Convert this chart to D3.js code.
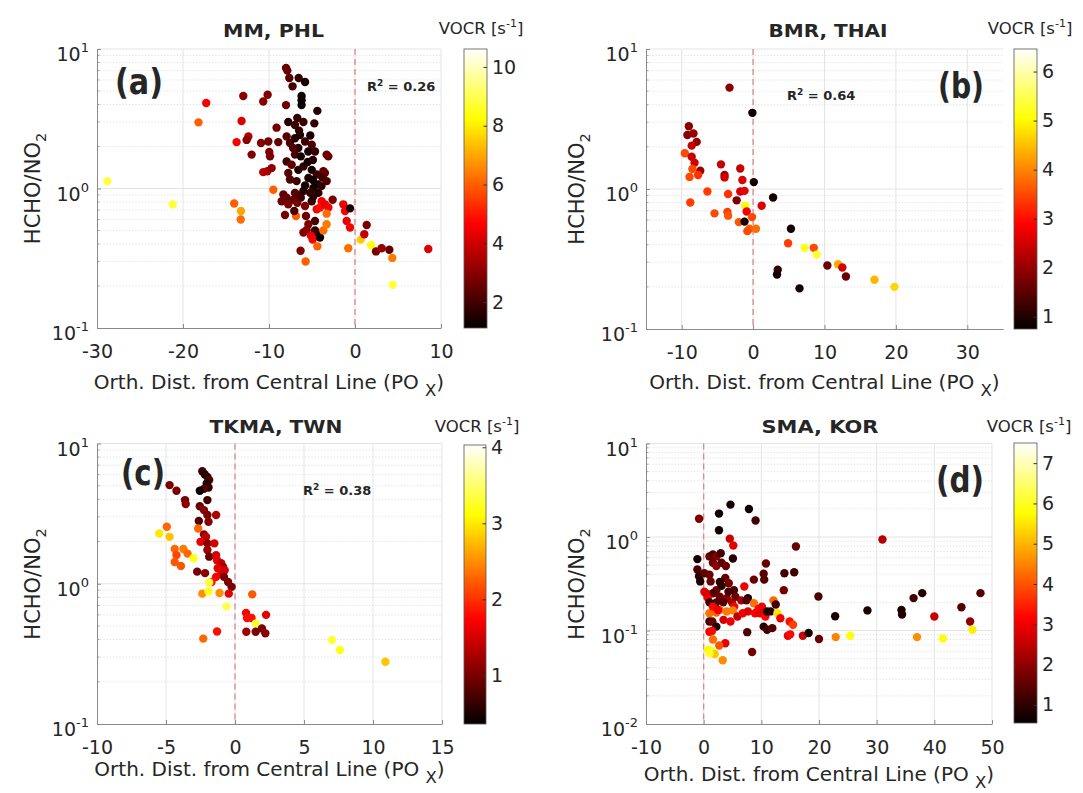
<!DOCTYPE html>
<html><head><meta charset="utf-8">
<script src="https://cdn.jsdelivr.net/npm/d3@7"></script>
<style>
body{margin:0;background:#fff}
svg{display:block}
text{font-family:"DejaVu Sans",sans-serif;fill:#262626}
</style>
</head><body>
<svg id="fig" width="1083" height="793"></svg>
<script>
// ---------------- DATA ----------------
const titles = ["MM, PHL", "BMR, THAI", "TKMA, TWN", "SMA, KOR"];
const panelLabels = ["(a)", "(b)", "(c)", "(d)"];
const r2Values = ["0.26", "0.64", "0.38", null];
const xLabel = "Orth. Dist. from Central Line (PO ";
const cbLabel = "VOCR [s";

const xTicksA = [-30, -20, -10, 0, 10];
const xTicksB = [-10, 0, 10, 20, 30];
const xTicksC = [-10, -5, 0, 5, 10, 15];
const xTicksD = [-10, 0, 10, 20, 30, 40, 50];
const yDecadesABC = [0.1, 1, 10];
const yDecadesD = [0.01, 0.1, 1, 10];
const cbTicksA = [2, 4, 6, 8, 10];
const cbTicksB = [1, 2, 3, 4, 5, 6];
const cbTicksC = [1, 2, 3, 4];
const cbTicksD = [1, 2, 3, 4, 5, 6, 7];
const vocrRangeA = [1.12, 10.61];
const vocrRangeB = [0.75, 6.46];
const vocrRangeC = [0.36, 4.03];
const vocrRangeD = [0.55, 7.5];

// [orth. distance, HCHO/NO2, VOCR]
const pointsA = [
[-28.8,1.13,8.8],[-21.2,0.77,8.8],[-18.2,2.98,6.0],[-17.3,4.1,4.6],[-14.05,0.78,6.0],
[-13.26,0.69,7.0],[-13.29,0.60,6.2],[-13.77,2.15,4.6],[-13.19,3.05,4.2],[-12.99,4.6,3.0],
[-12.4,2.36,3.6],[-12.6,2.23,3.0],[-12.02,1.75,2.9],[-10.93,2.12,2.9],[-10.08,2.17,2.7],
[-10.67,4.2,3.0],[-10.16,4.7,2.9],[-9.97,1.83,2.9],[-9.88,1.70,2.8],[-10.67,1.31,3.7],
[-10.2,1.33,3.5],[-9.69,1.40,3.1],[-9.5,0.98,6.0],[-9.12,2.73,2.7],[-8.92,2.15,2.5],
[-8.02,7.3,2.6],[-7.87,7.0,2.5],[-7.64,6.2,2.3],[-6.55,6.2,1.8],[-5.81,5.8,1.4],
[-7.26,5.4,2.0],[-6.21,4.6,1.3],[-6.21,4.3,1.3],[-6.21,3.96,1.2],[-8.02,3.96,2.6],
[-4.38,3.6,1.6],[-6.71,3.2,1.8],[-7.76,3.0,1.6],[-6.98,2.85,2.0],[-6.0,3.0,1.9],
[-4.73,2.93,1.8],[-7.95,2.36,2.3],[-7.56,2.12,2.1],[-6.98,2.29,1.6],[-6.4,2.42,1.5],
[-5.81,2.17,1.9],[-5.03,2.06,2.2],[-6.59,1.95,1.6],[-5.43,1.84,1.4],[-6.98,1.75,2.2],
[-4.65,1.84,1.8],[-3.3,1.75,2.5],[-3.1,1.7,2.6],[-7.95,1.56,2.0],[-7.37,1.48,2.4],
[-6.59,1.36,1.5],[-7.76,1.29,2.3],[-6.0,1.44,1.8],[-5.03,1.36,1.4],[-5.42,1.19,1.5],
[-4.45,1.26,1.9],[-3.68,1.33,2.4],[-3.5,1.29,2.5],[-3.29,1.13,2.2],[-6.79,1.13,1.9],
[-7.56,1.16,2.2],[-4.84,1.01,1.4],[-4.26,0.93,1.6],[-6.0,0.96,1.5],[-6.79,0.906,2.0],
[-7.95,0.86,2.5],[-4.3,1.07,1.3],[-3.9,1.04,1.8],[-5.5,1.55,1.3],[-4.9,1.6,1.6],
[-6.3,1.7,1.4],[-7.2,1.95,2.2],[-5.2,2.4,1.5],[-6.5,2.6,1.7],[-4.9,1.15,1.3],
[-5.8,1.05,1.4],[-6.3,0.86,1.9],[-3.8,1.2,2.0],[-3.88,0.81,4.6],[-8.53,0.81,2.6],
[-7.17,0.83,2.5],[-8.33,0.906,2.5],[-6.98,0.93,2.3],[-7.76,0.77,2.8],[-6.71,0.79,2.7],
[-8.14,0.645,2.7],[-6.86,0.635,6.0],[-7.06,0.69,2.1],[-5.7,0.635,2.6],[-5.81,0.75,2.9],
[-5.03,0.81,1.8],[-4.84,0.88,1.6],[-5.2,0.93,1.8],[-4.45,0.71,4.6],[-4.07,0.73,4.8],
[-3.49,0.77,4.4],[-3.1,0.73,4.6],[-3.3,0.66,6.2],[-2.6,0.83,2.8],[-4.65,0.585,2.1],
[-5.42,0.554,2.8],[-6.0,0.484,2.9],[-5.62,0.505,3.0],[-4.65,0.50,1.7],[-4.45,0.484,1.8],
[-5.12,0.458,4.4],[-4.92,0.43,4.6],[-4.07,0.445,1.3],[-3.68,0.50,6.2],[-3.3,0.554,6.4],
[-4.38,0.385,6.0],[-6.33,0.358,2.9],[-5.74,0.30,6.0],[-1.36,0.77,4.4],[-1.16,0.69,4.6],
[-0.97,0.585,4.4],[-0.58,0.525,4.6],[-0.58,0.72,1.4],[-0.78,0.373,6.2],[0.66,0.43,7.5],
[1.08,0.47,3.8],[1.36,0.548,2.8],[1.86,0.393,8.3],[2.44,0.354,2.8],[3.1,0.373,3.2],
[3.99,0.364,2.5],[4.34,0.318,6.4],[4.38,0.204,8.8],[8.52,0.368,4.2]
];

const pointsB = [
[-3.3,5.3,1.9],[-0.1,3.5,0.9],[-9.0,2.81,1.9],[-9.2,2.43,1.9],[-8.35,2.49,2.0],
[-7.9,2.17,2.0],[-8.6,2.04,2.4],[-9.56,1.80,3.5],[-8.6,1.70,2.4],[-8.2,1.54,2.5],
[-7.4,1.35,2.0],[-8.5,1.39,3.5],[-8.9,1.22,3.5],[-7.7,1.26,3.3],[-4.5,1.50,2.4],
[-4.0,1.26,2.1],[-4.0,1.21,2.5],[-1.8,1.40,2.4],[-1.5,1.16,2.6],[0.1,1.12,0.9],
[-6.4,0.96,3.4],[-3.5,0.92,3.3],[-1.8,0.96,2.6],[-1.2,0.97,2.7],[-2.3,0.83,1.8],
[-8.8,0.80,3.4],[-1.1,0.76,5.0],[2.8,0.87,0.9],[1.2,0.76,2.6],[-0.9,0.69,2.8],
[-0.15,0.63,3.5],[-5.4,0.67,3.5],[-3.6,0.685,3.4],[-3.5,0.645,3.6],[-2.0,0.58,3.6],
[-1.2,0.585,0.9],[-0.5,0.52,3.7],[-0.8,0.50,3.5],[0.4,0.52,3.8],[5.3,0.52,0.9],
[4.9,0.41,3.4],[7.2,0.38,5.2],[8.5,0.38,3.5],[8.9,0.34,5.3],[3.45,0.265,1.2],
[3.35,0.245,0.9],[6.5,0.195,0.9],[10.4,0.284,1.6],[11.9,0.29,4.3],[12.5,0.275,2.5],
[13.0,0.237,1.6],[17.0,0.225,4.4],[19.8,0.2,4.7]
];

const pointsC = [
[-2.37,6.35,0.7],[-2.2,6.04,0.5],[-2.0,5.78,0.6],[-1.87,5.5,0.8],[-2.05,5.19,0.5],
[-1.92,4.86,0.6],[-2.25,4.75,0.8],[-2.55,4.6,0.4],[-4.74,5.05,1.0],[-4.24,4.6,1.0],
[-3.62,3.95,1.0],[-3.57,3.7,1.1],[-2.0,3.95,0.7],[-2.55,3.57,0.9],[-2.25,3.35,1.1],
[-2.0,3.09,1.0],[-1.37,3.09,1.3],[-1.92,2.77,1.1],[-2.62,2.8,0.8],[-2.67,2.48,2.3],
[-4.94,2.55,2.3],[-5.49,2.28,3.0],[-4.74,2.16,2.8],[-2.25,2.25,1.1],[-2.1,2.16,1.4],
[-2.5,1.99,1.6],[-2.0,1.94,1.1],[-1.5,1.94,1.5],[-4.37,1.77,2.3],[-3.74,1.77,2.4],
[-3.44,1.64,2.3],[-3.0,1.52,3.2],[-4.24,1.6,2.1],[-4.37,1.43,2.2],[-3.92,1.34,2.2],
[-2.0,1.74,1.2],[-1.87,1.56,0.9],[-1.37,1.6,1.5],[-1.3,1.47,1.6],[-1.0,1.4,1.4],
[-0.87,1.32,1.2],[-0.75,1.25,1.5],[-2.74,1.22,1.0],[-2.17,1.19,1.1],[-1.25,1.29,1.6],
[-1.0,1.18,1.5],[-0.8,1.12,1.0],[-1.37,1.12,1.7],[-1.7,1.03,1.8],[-1.87,1.02,3.3],
[-0.5,1.03,1.0],[-0.25,0.95,1.0],[-0.45,0.85,1.6],[-2.37,0.85,2.5],[-1.92,0.88,3.2],
[-1.12,0.86,2.5],[-0.62,0.69,3.4],[1.25,0.84,2.2],[0.8,0.62,1.7],[0.87,0.57,1.8],
[1.2,0.57,1.8],[1.5,0.52,3.3],[2.25,0.6,1.6],[0.82,0.455,1.2],[1.5,0.455,1.0],
[1.95,0.48,1.0],[2.2,0.443,1.1],[-1.3,0.457,1.8],[-2.3,0.406,2.3],[7.03,0.397,3.3],
[7.6,0.337,3.2],[10.9,0.278,2.8]
];

const pointsD = [
[-0.8,1.57,1.8],[2.66,1.78,0.7],[4.65,2.22,0.7],[7.85,1.99,0.7],[9.0,1.5,1.2],
[2.66,1.18,0.7],[4.53,0.96,2.6],[5.14,0.81,2.9],[16.0,0.79,1.6],[31.0,0.94,2.4],
[-1.09,0.58,0.7],[-1.09,0.45,1.3],[-0.8,0.38,1.0],[-0.6,0.335,0.8],[1.0,0.62,1.6],
[1.6,0.65,1.3],[2.2,0.62,1.8],[2.96,0.67,1.2],[1.6,0.53,1.6],[2.2,0.49,2.0],
[3.1,0.53,1.5],[3.85,0.49,1.6],[5.07,0.59,0.9],[0.12,0.41,1.5],[1.0,0.395,1.6],
[1.2,0.335,1.6],[3.75,0.364,1.5],[4.35,0.32,1.8],[2.2,0.27,1.6],[1.6,0.25,1.4],
[2.8,0.23,1.6],[4.0,0.222,1.9],[5.25,0.27,1.3],[0.12,0.26,3.0],[0.72,0.222,3.1],
[7.05,0.296,3.0],[8.7,0.35,1.6],[10.4,0.405,1.4],[10.5,0.35,1.4],[10.8,0.52,1.6],
[14.0,0.41,1.2],[15.7,0.42,1.2],[13.9,0.27,1.7],[7.67,0.222,0.8],[8.7,0.196,4.3],
[12.1,0.21,4.2],[12.5,0.19,1.2],[0.4,0.25,2.8],[3.1,0.30,1.0],[4.3,0.26,1.2],
[5.5,0.23,1.6],[6.5,0.21,2.2],[7.4,0.21,1.4],[4.9,0.2,2.2],[2.2,0.2,1.3],
[3.4,0.2,1.4],[1.0,0.2,1.0],[5.3,0.18,3.0],[9.5,0.17,3.2],[10.1,0.18,3.0],
[2.8,0.33,1.0],[1.0,0.153,4.3],[2.2,0.156,4.2],[2.8,0.166,4.5],[4.0,0.16,4.4],
[5.07,0.164,4.5],[1.6,0.18,3.2],[2.5,0.166,3.0],[3.44,0.13,2.7],[4.65,0.125,3.0],
[5.86,0.141,2.5],[6.77,0.153,3.0],[7.67,0.16,2.8],[8.9,0.153,3.1],[9.8,0.153,2.9],
[10.7,0.141,3.2],[1.0,0.125,1.1],[1.5,0.125,1.6],[2.2,0.11,0.8],[10.4,0.11,1.0],
[11.0,0.102,1.1],[11.9,0.106,1.4],[11.0,0.16,0.8],[11.6,0.16,0.9],[12.8,0.153,5.5],
[13.3,0.135,3.0],[14.9,0.125,3.3],[15.5,0.115,3.8],[14.6,0.088,2.9],[15.0,0.091,3.2],
[17.2,0.088,2.6],[18.2,0.094,0.8],[20.0,0.081,1.6],[19.9,0.231,1.3],[22.8,0.142,0.8],
[22.9,0.085,4.5],[25.4,0.088,5.8],[28.4,0.164,0.8],[34.3,0.166,0.8],[34.4,0.148,0.9],
[36.4,0.222,1.2],[37.9,0.251,0.9],[37.0,0.085,4.6],[40.0,0.141,2.6],[41.5,0.082,5.8],
[44.7,0.177,1.4],[46.2,0.125,2.0],[46.6,0.102,5.6],[48.0,0.251,1.4],[7.55,0.096,1.3],
[8.4,0.059,1.7],[3.75,0.073,2.9],[2.7,0.069,4.0],[1.6,0.08,4.3],[1.0,0.097,3.0],
[1.45,0.099,3.2],[0.72,0.062,5.7],[1.33,0.061,5.9],[1.93,0.056,5.2],[1.0,0.057,6.0],
[3.3,0.048,4.6]
];

// ---------------- LAYOUT ----------------
const layout = [
  {left:97, right:441, top:49, bottom:328, xDom:[-30,10], yDom:[0.1,10], cb:[464,487,49,328],
   title:[273.5,37,101], lab:[139,94,48], r2:[367,91], cbl:[481,34], xl:[269,389], yl:[40,188.5]},
  {left:646, right:1003, top:49, bottom:329, xDom:[-15,35], yDom:[0.1,10], cb:[1014,1037,49,329],
   title:[828,37,119], lab:[961,98,46], r2:[787,100], cbl:[1030,34], xl:[824.5,389], yl:[584,189]},
  {left:97, right:442, top:443.5, bottom:724, xDom:[-10,15], yDom:[0.1,10], cb:[464,486,445,724],
   title:[276,433,133], lab:[143,485,44], r2:[303,495], cbl:[477,432], xl:[269.5,776], yl:[40,584]},
  {left:646, right:992, top:443.5, bottom:724, xDom:[-10,50], yDom:[0.01,10], cb:[1014,1037,443,723],
   title:[820,433,117], lab:[960,492,48], r2:null, cbl:[1029,432], xl:[819,781], yl:[584,584]}
];
const panelData = [
  {pts:pointsA, xt:xTicksA, yt:yDecadesABC, cbt:cbTicksA, vr:vocrRangeA},
  {pts:pointsB, xt:xTicksB, yt:yDecadesABC, cbt:cbTicksB, vr:vocrRangeB},
  {pts:pointsC, xt:xTicksC, yt:yDecadesABC, cbt:cbTicksC, vr:vocrRangeC},
  {pts:pointsD, xt:xTicksD, yt:yDecadesD, cbt:cbTicksD, vr:vocrRangeD}
];

// MATLAB "hot" colormap
const hotStops = [0, 0.375, 0.75, 1];
const hotCols = ["#030000", "#ff0000", "#ffff00", "#ffffff"];
const hot = d3.scaleLinear().domain(hotStops).range(hotCols).clamp(true);

const svg = d3.select("#fig");
const defs = svg.append("defs");
const grad = defs.append("linearGradient").attr("id","hotgrad")
  .attr("x1",0).attr("y1",1).attr("x2",0).attr("y2",0);
d3.range(0, 1.0001, 0.0625).forEach(t => grad.append("stop").attr("offset", t).attr("stop-color", hot(t)));

const GRID = "#e4e4e4", MINOR = "#cfcfcf", AXIS = "#8a8a8a", TXT = "#333";

layout.forEach((L, i) => {
  const D = panelData[i];
  const g = svg.append("g");
  const x = d3.scaleLinear().domain(L.xDom).range([L.left, L.right]);
  const y = d3.scaleLog().domain(L.yDom).range([L.bottom, L.top]);
  const cnorm = d3.scaleLinear().domain(D.vr).range([0, 1]);

  // minor log grid
  const e0 = Math.round(Math.log10(L.yDom[0])), e1 = Math.round(Math.log10(L.yDom[1]));
  const minors = [];
  for (let e = e0; e < e1; e++) for (let m = 2; m <= 9; m++) minors.push(m * Math.pow(10, e));
  g.append("g").selectAll("line").data(minors).join("line")
    .attr("x1", L.left).attr("x2", L.right)
    .attr("y1", d => y(d)).attr("y2", d => y(d))
    .attr("stroke", MINOR).attr("stroke-width", 0.8).attr("stroke-dasharray", "1,2.2");
  // major grid
  g.append("g").selectAll("line").data(D.yt.filter(v => v > L.yDom[0])).join("line")
    .attr("x1", L.left).attr("x2", L.right)
    .attr("y1", d => y(d)).attr("y2", d => y(d))
    .attr("stroke", GRID).attr("stroke-width", 1);
  g.append("g").selectAll("line").data(D.xt.filter(v => v > L.xDom[0])).join("line")
    .attr("x1", d => x(d)).attr("x2", d => x(d))
    .attr("y1", L.top).attr("y2", L.bottom)
    .attr("stroke", GRID).attr("stroke-width", 1);

  // zero dashed line
  g.append("line").attr("x1", x(0)).attr("x2", x(0)).attr("y1", L.top).attr("y2", L.bottom)
    .attr("stroke", "#d98a8e").attr("stroke-width", 1.3).attr("stroke-dasharray", "6,4");

  // x axis
  const xa = g.append("g").attr("transform", `translate(0,${L.bottom})`)
    .call(d3.axisBottom(x).tickValues(D.xt).tickFormat(d3.format("d")).tickSizeInner(-4).tickSizeOuter(0).tickPadding(16.5));
  xa.select(".domain").attr("stroke", AXIS);
  xa.selectAll(".tick line").attr("stroke", AXIS);
  xa.selectAll(".tick text").attr("font-size", 19).attr("font-family", "DejaVu Sans").attr("fill", TXT)
    .text(d => d < 0 ? "-" + Math.abs(d) : String(d));

  // y axis (log)
  const ya = g.append("g").attr("transform", `translate(${L.left},0)`)
    .call(d3.axisLeft(y).tickValues(D.yt).tickFormat("").tickSizeInner(-4).tickSizeOuter(0));
  ya.select(".domain").attr("stroke", AXIS);
  ya.selectAll(".tick line").attr("stroke", AXIS);
  ya.selectAll(".tick text").remove();
  ya.selectAll(".tick").append("text")
    .attr("x", -8).attr("y", 11.5).attr("text-anchor", "end").attr("fill", TXT)
    .each(function(d) {
      const t = d3.select(this);
      t.append("tspan").attr("font-size", 19).text("10");
      t.append("tspan").attr("font-size", 13).attr("dy", -9).text(String(Math.round(Math.log10(d))));
    });
  // minor ticks on y axis
  g.append("g").selectAll("line").data(minors).join("line")
    .attr("x1", L.left).attr("x2", L.left + 2.5)
    .attr("y1", d => y(d)).attr("y2", d => y(d)).attr("stroke", AXIS).attr("stroke-width", 0.8);

  // points
  g.append("g").selectAll("circle").data(D.pts).join("circle")
    .attr("cx", d => x(d[0])).attr("cy", d => y(d[1])).attr("r", 4.2)
    .attr("fill", d => hot(cnorm(d[2])));

  // title
  g.append("text").attr("x", L.title[0]).attr("y", L.title[1]).attr("text-anchor", "middle")
    .attr("font-weight", "bold").attr("font-size", 18.5).attr("fill", "#111")
    .attr("textLength", L.title[2]).attr("lengthAdjust", "spacingAndGlyphs").text(titles[i]);

  // panel label
  g.append("text").attr("x", L.lab[0]).attr("y", L.lab[1]).attr("text-anchor", "middle")
    .attr("font-weight", "bold").attr("font-size", 35).attr("fill", "#111")
    .attr("textLength", L.lab[2]).attr("lengthAdjust", "spacingAndGlyphs").text(panelLabels[i]);

  // R^2
  if (r2Values[i]) {
    const t = g.append("text").attr("x", L.r2[0]).attr("y", L.r2[1]).attr("font-weight", "bold").attr("fill", "#111");
    t.append("tspan").attr("font-size", 13).text("R");
    t.append("tspan").attr("font-size", 9).attr("dy", -5).text("2");
    t.append("tspan").attr("font-size", 13).attr("dy", 5).text(" = " + r2Values[i]);
  }

  // x label
  const xl = g.append("text").attr("x", L.xl[0]).attr("y", L.xl[1]).attr("text-anchor", "middle")
    .attr("font-size", 20).attr("fill", TXT);
  xl.append("tspan").text(xLabel);
  xl.append("tspan").attr("font-size", 16.5).attr("dy", 7).text("X");
  xl.append("tspan").attr("dy", -7).text(")");

  // y label
  const yl = g.append("text").attr("transform", `translate(${L.yl[0]},${L.yl[1]}) rotate(-90)`)
    .attr("text-anchor", "middle").attr("font-size", 21).attr("fill", TXT);
  yl.append("tspan").text("HCHO/NO");
  yl.append("tspan").attr("font-size", 14.5).attr("dy", 6).text("2");

  // colorbar
  const [cx0, cx1, ct, cb] = L.cb;
  g.append("rect").attr("x", cx0).attr("y", ct).attr("width", cx1 - cx0).attr("height", cb - ct)
    .attr("fill", "url(#hotgrad)").attr("stroke", "#555").attr("stroke-width", 0.8);
  const cs = d3.scaleLinear().domain(D.vr).range([cb, ct]);
  const ca = g.append("g").attr("transform", `translate(${cx1},0)`)
    .call(d3.axisRight(cs).tickValues(D.cbt).tickFormat(d3.format("d")).tickSizeInner(-3.5).tickSizeOuter(0).tickPadding(5));
  ca.select(".domain").remove();
  ca.selectAll(".tick line").attr("stroke", "#333");
  ca.selectAll(".tick text").attr("font-size", 19).attr("font-family", "DejaVu Sans").attr("fill", TXT);
  const cl = g.append("text").attr("x", L.cbl[0]).attr("y", L.cbl[1]).attr("text-anchor", "middle")
    .attr("font-size", 16.5).attr("fill", TXT);
  cl.append("tspan").text(cbLabel);
  cl.append("tspan").attr("font-size", 11).attr("dy", -7).text("-1");
  cl.append("tspan").attr("dy", 7).text("]");
});
</script>
</body></html>
